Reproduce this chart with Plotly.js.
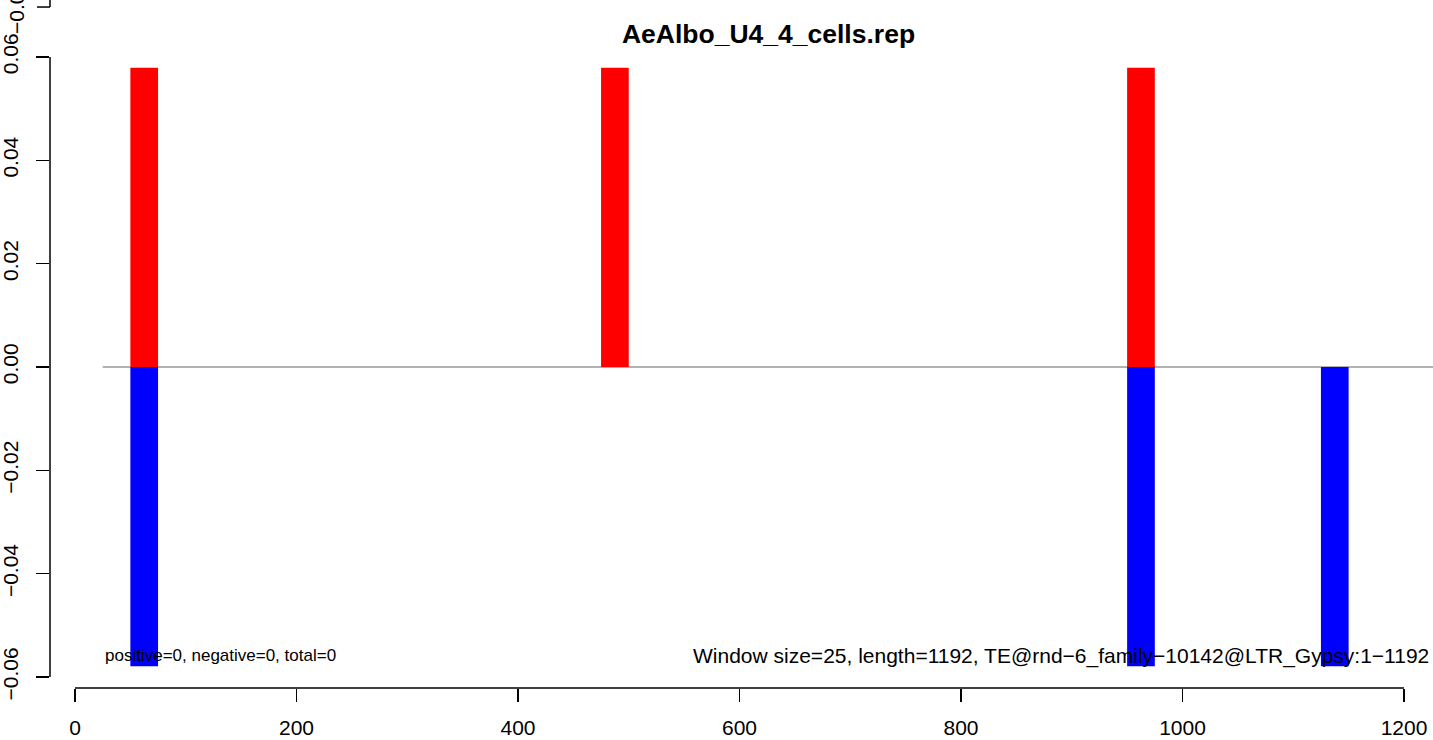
<!DOCTYPE html>
<html>
<head>
<meta charset="utf-8">
<script src="https://cdn.plot.ly/plotly-3.0.1.min.js"></script>
<style>html,body{margin:0;padding:0;background:#fff;}#chart{width:1433px;height:740px;}</style>
</head>
<body>
<div id="chart"></div>
<script>
// ---- data ----
var chartTitle = "AeAlbo_U4_4_cells.rep";
var windowSize = 25;
var posX = [62.5, 487.5, 962.5];          // window centres (positive strand)
var posY = [0.0579, 0.0579, 0.0579];
var negX = [62.5, 962.5, 1137.5];         // window centres (negative strand)
var negY = [-0.0579, -0.0579, -0.0579];
var xTicks = [0, 200, 400, 600, 800, 1000, 1200];
var yTicks = [-0.06, -0.04, -0.02, 0.00, 0.02, 0.04, 0.06];
var yTickText = ["\u22120.06", "\u22120.04", "\u22120.02", "0.00", "0.02", "0.04", "0.06"];
var leftNote = "positive=0, negative=0, total=0";
var rightNote = "Window size=25, length=1192, TE@rnd\u22126_family\u221210142@LTR_Gypsy:1\u22121192";
var noteX = [25, 1224.4];
var noteY = -0.0559;
var zeroLineFrom = 25;
var overlapLabel = "\u22120.06";

var FONT = "Liberation Sans, Arial, Helvetica, sans-serif";
var xRange = [-22.573, 1226.19];
var yRange = [-0.062129, 0.06];

var traces = [
  {type: "bar", x: posX, y: posY, width: windowSize, marker: {color: "#ff0000", line: {width: 0}}, hoverinfo: "skip"},
  {type: "bar", x: negX, y: negY, width: windowSize, marker: {color: "#0000ff", line: {width: 0}}, hoverinfo: "skip"}
];

var layout = {
  width: 1433, height: 740,
  margin: {l: 50, r: 0, t: 57, b: 52},
  paper_bgcolor: "#ffffff", plot_bgcolor: "#ffffff",
  showlegend: false,
  barmode: "overlay",
  font: {family: FONT, color: "#000000"},
  title: {
    text: chartTitle,
    font: {family: FONT, size: 26.5, color: "#000000", weight: "bold"},
    xref: "container", x: 0.5363, xanchor: "center",
    yref: "container", y: 0.9545, yanchor: "middle"
  },
  xaxis: {
    range: xRange, showgrid: false, zeroline: false, showline: false,
    tickmode: "array", tickvals: xTicks, ticktext: xTicks.map(String),
    ticks: "outside", ticklen: 13, tickwidth: 1.5, tickcolor: "#000000",
    ticklabelstandoff: 8,
    tickfont: {family: FONT, size: 21, color: "#000000"}
  },
  yaxis: {
    range: yRange, showgrid: false, zeroline: false, showline: false,
    tickmode: "array", tickvals: yTicks, ticktext: yTickText,
    ticks: "outside", ticklen: 13, tickwidth: 1.5, tickcolor: "#000000",
    tickangle: -90, ticklabelstandoff: 10,
    tickfont: {family: FONT, size: 21, color: "#000000"}
  },
  shapes: [
    {type: "line", layer: "below", xref: "x", yref: "y", x0: zeroLineFrom, x1: xRange[1], y0: 0, y1: 0,
     line: {color: "#999999", width: 1.3}},
    {type: "line", xref: "paper", yref: "y", x0: 0, x1: 0, y0: yTicks[0], y1: yTicks[yTicks.length - 1],
     line: {color: "#000000", width: 1.5}},
    {type: "line", xref: "x", yref: "paper", x0: xTicks[0], x1: xTicks[xTicks.length - 1], y0: 0, y1: 0,
     line: {color: "#000000", width: 1.5}},
    {type: "line", xref: "paper", yref: "paper", x0: 0, x1: 0, y0: 1.0792, y1: 1.1,
     line: {color: "#000000", width: 1.5}},
    {type: "line", xref: "paper", yref: "paper", x0: -0.0094, x1: 0, y0: 1.0792, y1: 1.0792,
     line: {color: "#000000", width: 1.5}}
  ],
  annotations: [
    {xref: "x", yref: "y", x: noteX[0], y: noteY, text: leftNote, showarrow: false,
     xanchor: "left", yanchor: "middle", font: {family: FONT, size: 17, color: "#000000"}},
    {xref: "x", yref: "y", x: noteX[1], y: noteY, text: rightNote, showarrow: false,
     xanchor: "right", yanchor: "middle", font: {family: FONT, size: 21, color: "#000000"}},
    {xref: "paper", yref: "paper", x: -0.0246, y: 1.0792, text: overlapLabel, showarrow: false,
     textangle: -90, xanchor: "center", yanchor: "middle", font: {family: FONT, size: 21, color: "#000000"}}
  ]
};

Plotly.newPlot("chart", traces, layout, {staticPlot: true, displayModeBar: false});
</script>
</body>
</html>
